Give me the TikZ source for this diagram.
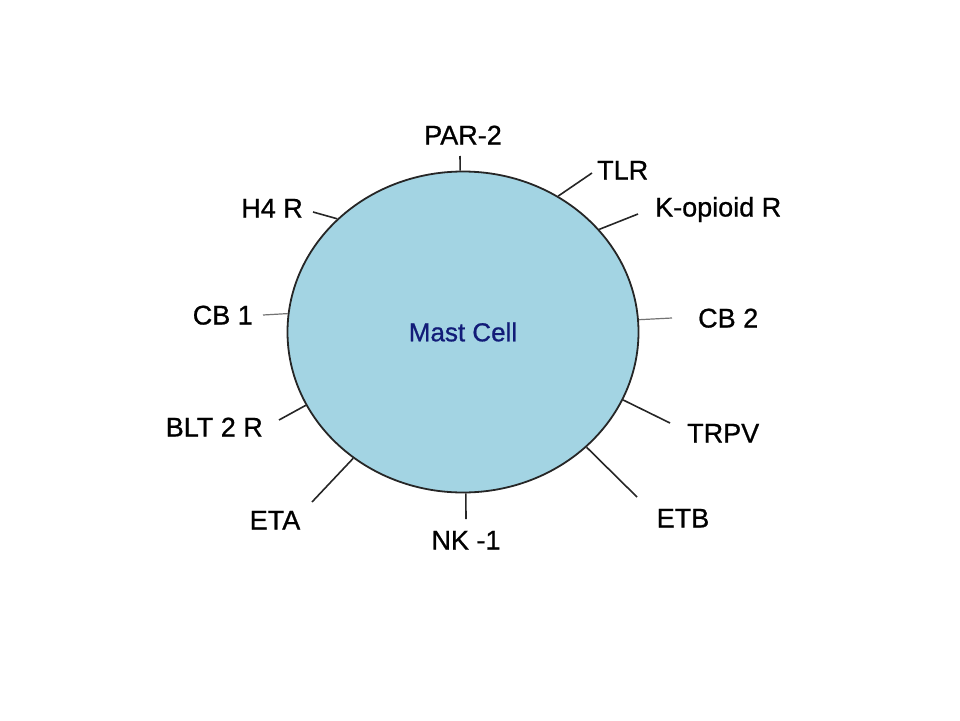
\documentclass[tikz,border=0pt]{standalone}
\usepackage{fontspec}
\setmainfont{Liberation Sans}
\newfontfamily\lblfont{Liberation Sans}[FakeBold=0.8]
\usetikzlibrary{shapes.geometric}

\definecolor{cellblue}{RGB}{163,212,227}
\definecolor{cellnavy}{RGB}{18,28,120}

\tikzset{
  cell/.style={ellipse, draw=black!85, line width=1.8pt, fill=cellblue,
    minimum width=351pt, minimum height=321pt, inner sep=0pt,
    text=cellnavy, font=\lblfont\fontsize{26}{30}\selectfont},
  lbl/.style={inner sep=0pt, text height=19pt, text depth=0pt,
    font=\lblfont\fontsize{27}{32}\selectfont},
  tick/.style={line width=1.6pt, black!85},
  thintick/.style={line width=1.2pt, black!55}
}

\begin{document}
\begin{tikzpicture}[x=1pt,y=-1pt]
  \useasboundingbox (0,0) rectangle (960,720);

  \node[cell] (cell) at (463,332) {Mast Cell};

  % labels round the cell
  \node[lbl] (par2) at (463,135) {PAR-2};
  \node[lbl,anchor=west] (tlr) at (597,170) {TLR};
  \node[lbl,anchor=west] (kop) at (655,207) {K-opioid R};
  \node[lbl,anchor=west] (cb2) at (698,318) {CB 2};
  \node[lbl,anchor=west] (trpv) at (687,433) {TRPV};
  \node[lbl] (etb) at (683,518) {ETB};
  \node[lbl] (nk1) at (466,540) {NK -1};
  \node[lbl] (eta) at (275,520) {ETA};
  \node[lbl,anchor=east] (blt) at (263,427) {BLT 2 R};
  \node[lbl,anchor=east] (cb1) at (253,315) {CB 1};
  \node[lbl,anchor=east] (h4r) at (303,208) {H4 R};

  % free ends of the ticks
  \coordinate (par2-t) at (460,156);
  \coordinate (tlr-t) at (592,173);
  \coordinate (kop-t) at (638,214);
  \coordinate (cb2-t) at (672,318);
  \coordinate (trpv-t) at (670,423);
  \coordinate (etb-t) at (637,497);
  \coordinate (nk1-t) at (466,519);
  \coordinate (eta-t) at (312,502);
  \coordinate (blt-t) at (279,420);
  \coordinate (cb1-t) at (263,315);
  \coordinate (h4r-t) at (313,212);

  \draw[tick] (cell.91) -- (par2-t);
  \draw[tick] (cell.55) -- (tlr-t);
  \draw[tick] (cell.37) -- (kop-t);
  \draw[thintick] (cell.4.5) -- (cb2-t);
  \draw[tick] (cell.337) -- (trpv-t);
  \draw[tick] (cell.317) -- (etb-t);
  \draw[tick] (cell.271) -- (nk1-t);
  \draw[tick] (cell.229.5) -- (eta-t);
  \draw[tick] (cell.205) -- (blt-t);
  \draw[thintick] (cell.174.5) -- (cb1-t);
  \draw[tick] (cell.138) -- (h4r-t);
\end{tikzpicture}
\end{document}
